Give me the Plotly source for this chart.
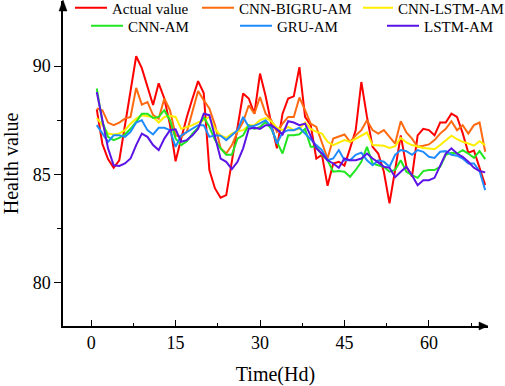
import plotly.graph_objects as go

time = list(range(1, 71))

actual = [88.0, 86.4, 85.7, 85.3, 85.65, 87.3, 88.9, 90.45, 89.9, 89.0,
          88.2, 89.2, 88.5, 87.3, 85.6, 86.65, 87.65, 88.5, 89.3, 88.75,
          85.2, 84.35, 83.92, 84.04, 85.6, 87.2, 88.73, 88.5, 87.8, 89.65,
          88.6, 87.34, 86.2, 87.8, 88.5, 88.6, 89.95, 87.65, 87.27, 85.73,
          85.9, 84.47, 85.5, 85.58, 85.4, 86.2, 87.04, 89.26, 87.65, 86.27,
          85.96, 85.12, 83.66, 85.2, 86.8, 85.35, 84.9, 86.8, 87.1, 87.04,
          86.8, 87.39, 87.39, 87.8, 87.65, 86.9, 86.0, 86.1, 85.3, 84.5]

cnn_bigru_am = [88.04, 87.96, 87.39, 87.27, 87.39, 87.57, 87.65, 88.99, 88.22, 88.34,
                87.73, 87.57, 88.5, 87.96, 86.8, 86.73, 86.96, 87.88, 88.85, 88.42,
                88.04, 87.27, 86.2, 85.96, 86.35, 86.96, 87.42, 88.19, 87.8, 88.57,
                87.8, 87.5, 86.96, 87.34, 87.65, 87.65, 88.55, 87.96, 87.34, 87.19,
                86.42, 85.73, 86.65, 86.73, 86.84, 86.5, 86.8, 87.04, 87.5, 87.04,
                86.88, 87.04, 86.73, 86.42, 87.45, 86.93, 86.65, 86.27, 86.32, 86.38,
                86.58, 86.88, 87.1, 87.45, 87.04, 87.27, 86.88, 87.27, 87.39, 86.04]

cnn_lstm_am = [87.6, 87.27, 86.88, 86.84, 86.88, 87.04, 87.34, 87.57, 87.73, 87.7,
               87.65, 87.39, 87.65, 87.7, 87.65, 87.1, 87.19, 87.27, 87.4, 87.5,
               87.65, 87.1, 86.8, 86.68, 86.88, 86.99, 87.04, 87.27, 87.27, 87.5,
               87.6, 87.45, 87.15, 87.04, 87.19, 87.04, 87.1, 87.39, 87.1, 86.96,
               86.88, 86.5, 86.35, 86.47, 86.58, 86.5, 86.65, 86.8, 86.93, 86.35,
               86.35, 86.32, 86.22, 86.3, 86.68, 86.47, 86.35, 86.27, 86.22, 86.19,
               86.16, 86.35, 86.58, 86.78, 86.62, 86.5, 86.42, 86.32, 86.53, 86.35]

cnn_am = [88.96, 87.42, 86.73, 86.58, 86.68, 86.84, 87.1, 87.42, 87.8, 87.8,
          87.6, 87.65, 87.96, 87.5, 86.65, 86.35, 86.53, 86.88, 87.15, 87.65,
          87.19, 86.58, 86.2, 85.9, 85.9, 86.65, 86.8, 87.27, 87.1, 87.19,
          87.42, 87.1, 86.5, 85.96, 86.8, 86.8, 86.85, 87.1, 86.27, 86.27,
          85.9, 85.65, 85.12, 85.15, 85.12, 84.89, 85.2, 85.58, 86.27, 85.5,
          85.42, 85.35, 85.12, 85.2, 85.65, 85.12, 84.96, 84.84, 85.15, 85.2,
          85.2, 85.35, 85.9, 86.0, 85.96, 86.12, 85.96, 85.76, 86.07, 85.7]

gru_am = [87.27, 86.88, 86.5, 86.8, 86.8, 86.73, 86.96, 87.39, 87.5, 87.04,
          86.84, 87.15, 87.15, 87.04, 86.27, 86.8, 86.96, 87.1, 87.27, 87.27,
          86.73, 86.8, 86.78, 86.58, 86.8, 87.04, 87.65, 87.19, 87.24, 87.35,
          87.5, 87.19, 86.42, 86.93, 87.04, 87.04, 87.15, 86.88, 86.58, 86.35,
          86.12, 85.65, 85.73, 86.12, 85.65, 85.65, 85.9, 86.0, 85.65, 85.42,
          85.65, 85.58, 85.35, 85.9, 86.12, 86.07, 85.9, 86.12, 86.04, 85.81,
          85.76, 86.04, 86.07, 85.9, 85.86, 85.73, 85.5, 85.5, 85.15, 84.27]

lstm_am = [88.8, 87.42, 86.2, 85.42, 85.39, 85.5, 85.73, 86.35, 86.88, 86.73,
           86.35, 86.12, 86.65, 87.04, 87.08, 86.5, 86.58, 86.8, 87.1, 87.8,
           87.73, 86.73, 85.73, 85.58, 85.24, 85.58, 86.2, 87.1, 87.15, 87.1,
           87.27, 87.27, 87.08, 86.84, 87.45, 87.39, 87.27, 87.34, 86.8, 86.2,
           85.96, 85.65, 85.5, 85.3, 85.73, 85.65, 85.65, 85.73, 85.96, 85.73,
           85.55, 85.35, 85.3, 84.87, 85.12, 85.35, 84.96, 84.5, 84.73, 84.73,
           84.84, 85.42, 85.96, 86.2, 85.96, 85.81, 85.58, 85.3, 85.15, 85.09]

names = ["Actual value", "CNN-BIGRU-AM", "CNN-LSTM-AM", "CNN-AM", "GRU-AM", "LSTM-AM"]
series = [actual, cnn_bigru_am, cnn_lstm_am, cnn_am, gru_am, lstm_am]
colors = ["#FF0000", "#FF6A10", "#FFEE00", "#22E622", "#1E8CFF", "#5A14E6"]

x_ticks = [0, 15, 30, 45, 60]
x_minor = [7.5, 22.5, 37.5, 52.5, 67.5]
y_ticks = [80, 85, 90]
y_minor = [82.5, 87.5]

FONT = "Liberation Serif, Times New Roman, serif"
W, H = 505, 386
ML, MR, MT, MB = 63, 17, 1, 60
PW, PH = W - ML - MR, H - MT - MB

def px_to_paper_x(px):
    return (px - ML) / PW

def px_to_paper_y(py):
    return 1 - (py - MT) / PH

# legend symbol start (px), row center (px), symbol length
leg_pos = [(73, 8, 32), (200, 8, 32), (361, 8, 30), (89, 26, 32), (238, 26, 32), (385, 26, 32)]

fig = go.Figure()
for k, (nm, ys, c) in enumerate(zip(names, series, colors)):
    lg = "legend" if k == 0 else f"legend{k+1}"
    fig.add_trace(go.Scatter(x=time, y=ys, mode="lines", name=nm,
                             line=dict(color=c, width=2), legend=lg))

layout_legends = {}
for k, (sx, sy, iw) in enumerate(leg_pos):
    key = "legend" if k == 0 else f"legend{k+1}"
    layout_legends[key] = dict(
        x=px_to_paper_x(sx - 3), y=px_to_paper_y(sy),
        xanchor="left", yanchor="middle",
        bgcolor="rgba(0,0,0,0)", borderwidth=0,
        font=dict(family=FONT, size=15, color="black"),
        itemwidth=iw,
    )

fig.update_layout(
    width=W, height=H,
    margin=dict(l=ML, r=MR, t=MT, b=MB, autoexpand=False),
    paper_bgcolor="white", plot_bgcolor="white",
    font=dict(family=FONT, color="black"),
    showlegend=True,
    **layout_legends,
    xaxis=dict(
        range=[-5, 70.5], tickvals=x_ticks, ticks="inside", ticklen=6,
        tickwidth=1.2, tickcolor="black", automargin=False,
        showline=True, linecolor="black", linewidth=1.5,
        showgrid=False, zeroline=False,
        tickfont=dict(family=FONT, size=18),
        minor=dict(tickvals=x_minor, ticks="inside", ticklen=3, tickcolor="black"),
        title=dict(text="Time(Hd)", font=dict(family=FONT, size=20), standoff=18),
    ),
    yaxis=dict(
        range=[78, 93], tickvals=y_ticks, ticks="outside", ticklen=7,
        tickwidth=1.2, tickcolor="black", automargin=False,
        showline=True, linecolor="black", linewidth=1.5,
        showgrid=False, zeroline=False,
        tickfont=dict(family=FONT, size=18),
        minor=dict(tickvals=y_minor, ticks="outside", ticklen=4, tickcolor="black"),
        title=dict(text="Health value", font=dict(family=FONT, size=20), standoff=15),
    ),
)

# axis arrow heads
ax_w, ax_h = 1 / PW, 1 / PH
fig.add_shape(type="path", xref="paper", yref="paper",
              path=f"M {-4*ax_w} {1-10*ax_h} L 0 {1+1*ax_h} L {4*ax_w} {1-10*ax_h} Z",
              fillcolor="black", line=dict(color="black", width=0.5))
fig.add_shape(type="path", xref="paper", yref="paper",
              path=f"M {1-9*ax_w} {4*ax_h} L {1+0*ax_w} 0 L {1-9*ax_w} {-4*ax_h} Z",
              fillcolor="black", line=dict(color="black", width=0.5))

fig.write_html("out.html",
               config={"displayModeBar": False},
               post_script="document.body.style.margin='0px';document.body.style.overflow='hidden';")
